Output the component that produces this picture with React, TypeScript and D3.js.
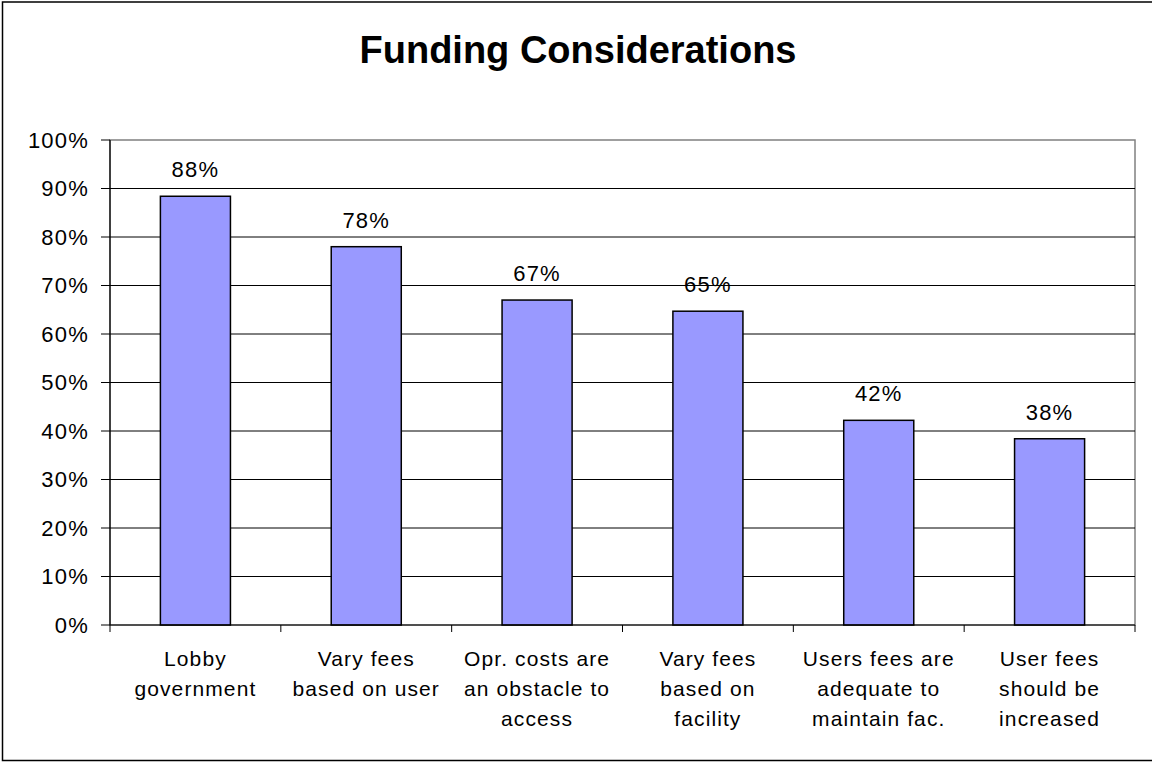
import React from "react";
import * as d3 from "d3";

const title = "Funding Considerations";
const categories = [
  "Lobby\ngovernment",
  "Vary fees\nbased on user",
  "Opr. costs are\nan obstacle to\naccess",
  "Vary fees\nbased on\nfacility",
  "Users fees are\nadequate to\nmaintain fac.",
  "User fees\nshould be\nincreased",
];
const values = [0.884, 0.78, 0.67, 0.647, 0.422, 0.384];
const yTicks = [0, 0.1, 0.2, 0.3, 0.4, 0.5, 0.6, 0.7, 0.8, 0.9, 1.0];

const W = 1152;
const H = 762;
const FONT = "'Liberation Sans', Arial, sans-serif";

export default function App() {
  const left = 110;
  const right = 1135;
  const top = 140;
  const bottom = 625;

  const x = d3.scaleBand<number>().domain(d3.range(categories.length)).range([left, right]).padding(0);
  const y = d3.scaleLinear().domain([0, 1]).range([bottom, top]);
  const step = x.step();
  const barW = step * 0.41;
  const fmt = d3.format(".0%");
  const boundaries = d3.range(categories.length + 1).map((i) => left + i * step);

  return (
    <svg
      width={W}
      height={H}
      style={{ position: "absolute", left: 0, top: 0, background: "#fff" }}
      fontFamily={FONT}
    >
      <rect x={0} y={0} width={W} height={H} fill="#fff" />
      <rect x={2.5} y={2} width={W} height={758.5} fill="none" stroke="#000" strokeWidth={1.5} />
      <text x={578} y={63} textAnchor="middle" fontSize={38} fontWeight="bold" fill="#000">
        {title}
      </text>

      {/* plot area border */}
      <rect x={left} y={top} width={right - left} height={bottom - top} fill="#fff" stroke="#808080" strokeWidth={1.5} />

      {/* gridlines */}
      {yTicks.slice(1, -1).map((t) => (
        <line key={"g" + t} x1={left} x2={right} y1={y(t)} y2={y(t)} stroke="#000" strokeWidth={1} />
      ))}

      {/* bars */}
      {values.map((v, i) => {
        const cx = (x(i) as number) + step / 2;
        return (
          <g key={"b" + i}>
            <rect
              x={cx - barW / 2}
              y={y(v)}
              width={barW}
              height={y(0) - y(v)}
              fill="#9999FF"
              stroke="#000"
              strokeWidth={1.5}
            />
            <text x={cx} y={y(v) - 19} textAnchor="middle" fontSize={22} letterSpacing={1.2} fill="#000">
              {fmt(v)}
            </text>
          </g>
        );
      })}

      {/* axes */}
      <line x1={left} x2={left} y1={top} y2={bottom} stroke="#000" strokeWidth={1.2} />
      <line x1={left} x2={right} y1={bottom} y2={bottom} stroke="#000" strokeWidth={1.2} />
      {yTicks.map((t) => (
        <g key={"yt" + t}>
          <line x1={left - 9} x2={left} y1={y(t)} y2={y(t)} stroke="#000" strokeWidth={1} />
          <text x={89} y={y(t)} dy="0.36em" textAnchor="end" fontSize={22} letterSpacing={1.2} fill="#000">
            {fmt(t)}
          </text>
        </g>
      ))}
      {boundaries.map((bx, i) => (
        <line key={"xt" + i} x1={bx} x2={bx} y1={bottom} y2={bottom + 7} stroke="#000" strokeWidth={1} />
      ))}
      {categories.map((c, i) => {
        const cx = (x(i) as number) + step / 2;
        return (
          <text key={"c" + i} textAnchor="middle" fontSize={21} letterSpacing={1.1} fill="#000">
            {c.split("\n").map((ln, j) => (
              <tspan key={j} x={cx} y={666 + j * 30}>
                {ln}
              </tspan>
            ))}
          </text>
        );
      })}
    </svg>
  );
}
